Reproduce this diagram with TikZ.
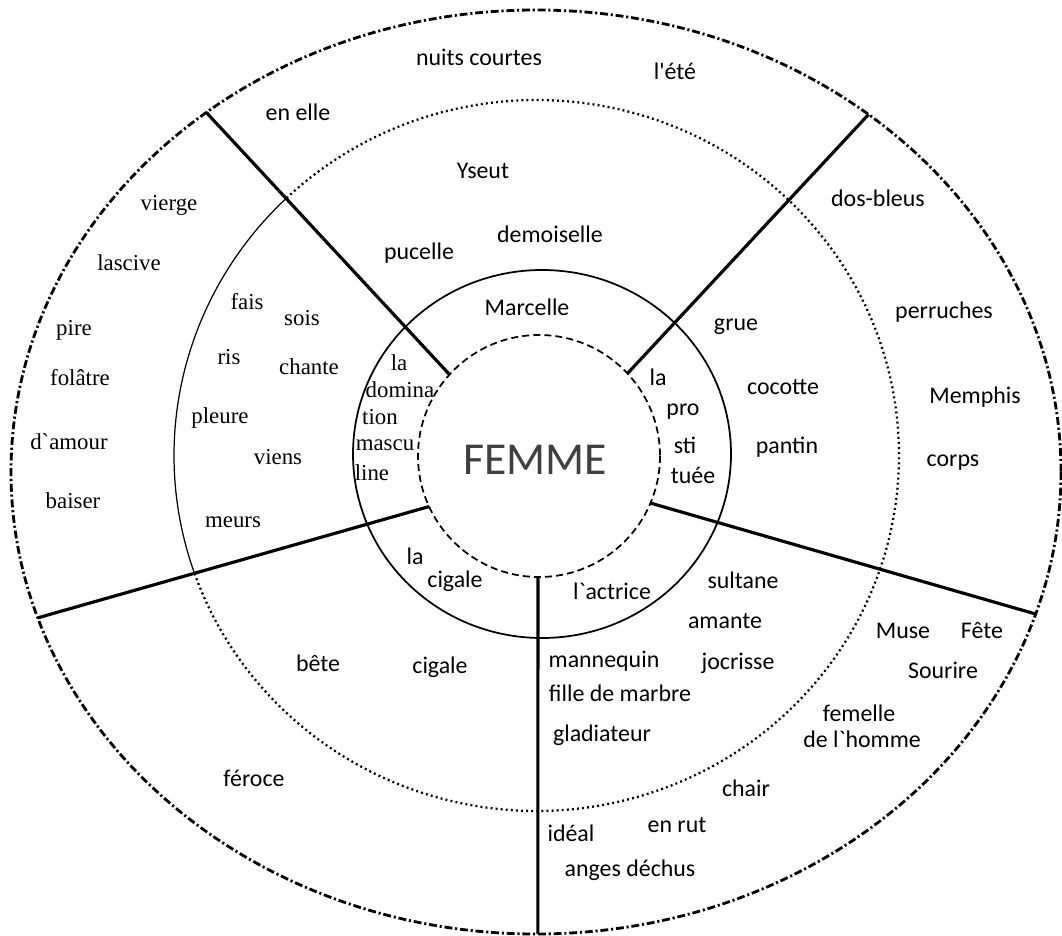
\documentclass[tikz,border=0pt]{standalone}
\usepackage{fontspec}
\setmainfont{Carlito}
\newfontfamily\timesfont{Liberation Serif}
\usepackage{tikz}
\tikzset{
  rim/.style = {line width=1.6pt, dash pattern=on 4.5pt off 1.6pt on 1.2pt off 1.6pt},
  midring/.style = {line width=1.3pt, dash pattern=on 1.1pt off 1.8pt},
  ring/.style = {line width=1pt},
  core/.style = {line width=1pt, dash pattern=on 4pt off 2.3pt},
  spoke/.style = {line width=1.8pt},
  word/.style = {inner sep=0pt, font=\fontsize{13.6}{16}\selectfont},
  vers/.style = {inner sep=0pt, font=\timesfont\fontsize{13}{15}\selectfont}
}

\begin{document}
\begin{tikzpicture}[x=0.02cm,y=-0.02cm]
\useasboundingbox (0,0) rectangle (1062,936);

  \coordinate (o) at (536,472);
  \coordinate (m) at (536.5,455.5);
  \coordinate (i) at (542,454);
  \coordinate (c) at (539,456);

  \draw[rim] (o) ellipse [x radius=525, y radius=462];
  \draw[midring] (m) ++(226.4:362.5 and 355.5)
     arc[start angle=226.4, end angle=520.9, x radius=362.5, y radius=355.5];
  \draw[line width=0.7pt] (m) ++(160.9:362.5 and 355.5)
     arc[start angle=160.9, end angle=226.4, x radius=362.5, y radius=355.5];
  \draw[ring] (i) ellipse [x radius=189, y radius=184];
  \draw[core] (c) circle [radius=121];

 \foreach \n/\a/\b in {1/222.3/231.1, 2/317/309.3, 3/155.3/161.6, 4/22.9/17.9, 5/90.5/89.8}{
   \path (c) ++(\a:121) coordinate (in\n);
   \path (o) ++(\b:525 and 462) coordinate (out\n);
   \draw[spoke] (in\n) -- (out\n);
 }

  \node[font=\fontsize{26}{30}\selectfont, text=black!75] (femme) at (535,460) {FEMME};

 \foreach \x/\y/\t [count=\k] in {479/57/nuits courtes, 675/71/l\textquotesingle été,
     298/112/en elle, 483/171/Yseut, 550/234/demoiselle, 419/253/pucelle,
     527/307/Marcelle, 878/198/dos-bleus, 944/312/perruches, 975/397/Memphis,
     953/463/corps, 736/327/grue, 783/387/cocotte, 787/447/pantin,
     658/377/la, 683/412/pro, 685/445/sti, 693/475/tuée,
     415/556/la, 455/581/cigale, 318/663/bête, 440/667/cigale, 254/778/féroce,
     612/591/l\textasciigrave actrice, 743/580/sultane, 725/621/amante,
     604/661/mannequin, 738/663/jocrisse, 620/693/fille de marbre,
     602/735/gladiateur, 903/631/Muse, 982/631/Fête, 943/670/Sourire,
     859/713/femelle, 862/739/de l\textasciigrave homme, 746/788/chair,
     677/825/en rut, 571/833/idéal, 630/870/anges déchus}{
   \node[word] (w\k) at (\x,\y) {\t};
 }

 \foreach \x/\y/\t [count=\k] in {169/205/vierge, 129/263/lascive, 74/330/pire,
     80/378/folâtre, 69/442/d\textasciigrave amour, 73/501/baiser,
     247/302/fais, 302/318/sois, 229/357/ris, 309/367/chante, 220/418/pleure,
     278/457/viens, 233/522/meurs,
     399/363/la, 400/390/domina, 380/417/tion, 385/445/mascu, 372/473/line}{
   \node[vers] (v\k) at (\x,\y) {\t};
 }

\end{tikzpicture}
\end{document}
